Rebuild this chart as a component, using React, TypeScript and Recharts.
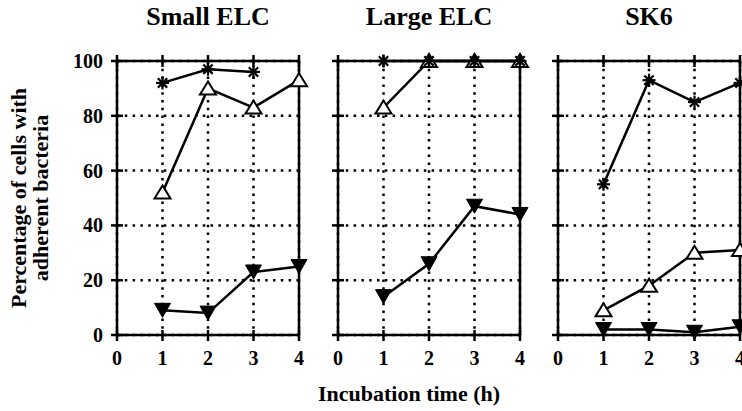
import { LineChart, Line, XAxis, YAxis, CartesianGrid } from 'recharts'

const hours = [1, 2, 3, 4]
const xTicks = [0, 1, 2, 3, 4]
const yTicks = [0, 20, 40, 60, 80, 100]

const titles = ['Small ELC', 'Large ELC', 'SK6']

// star = asterisk, open = open triangle up, filled = filled triangle down
const smallStar = [92, 97, 96, null]
const smallOpen = [52, 90, 83, 93]
const smallFilled = [9, 8, 23, 25]

const largeStar = [100, 100, 100, 100]
const largeOpen = [83, 100, 100, 100]
const largeFilled = [14, 26, 47, 44]

const sk6Star = [55, 93, 85, 92]
const sk6Open = [9, 18, 30, 31]
const sk6Filled = [2, 2, 1, 3]

const panels = [
  { star: smallStar, open: smallOpen, filled: smallFilled },
  { star: largeStar, open: largeOpen, filled: largeFilled },
  { star: sk6Star, open: sk6Open, filled: sk6Filled },
]

const txt = { fontFamily: 'Liberation Serif, Times New Roman, DejaVu Serif, serif', fontWeight: 'bold' as const }

function buildRows(p: { star: (number | null)[]; open: number[]; filled: number[] }) {
  return hours.map((h, i) => ({ t: h, star: p.star[i], open: p.open[i], filled: p.filled[i] }))
}

// eslint-disable-next-line @typescript-eslint/no-explicit-any
function StarDot(props: any) {
  const { cx, cy, index } = props
  if (cx == null || cy == null || props.value == null) return <g key={`s${index}`} />
  const r = 6.5
  const d = r * 0.72
  return (
    <g key={`s${index}`} stroke="#000" strokeWidth={2.2}>
      <line x1={cx - r} y1={cy} x2={cx + r} y2={cy} />
      <line x1={cx} y1={cy - r} x2={cx} y2={cy + r} />
      <line x1={cx - d} y1={cy - d} x2={cx + d} y2={cy + d} />
      <line x1={cx - d} y1={cy + d} x2={cx + d} y2={cy - d} />
    </g>
  )
}

// eslint-disable-next-line @typescript-eslint/no-explicit-any
function OpenTri(props: any) {
  const { cx, cy, index } = props
  if (cx == null || cy == null) return <g key={`o${index}`} />
  return (
    <polygon key={`o${index}`}
      points={`${cx},${cy - 7} ${cx - 8},${cy + 6} ${cx + 8},${cy + 6}`}
      fill="#fff" stroke="#000" strokeWidth={2} strokeLinejoin="miter" />
  )
}

// eslint-disable-next-line @typescript-eslint/no-explicit-any
function FilledTri(props: any) {
  const { cx, cy, index } = props
  if (cx == null || cy == null) return <g key={`f${index}`} />
  return (
    <polygon key={`f${index}`}
      points={`${cx - 8},${cy - 7} ${cx + 8},${cy - 7} ${cx},${cy + 7}`}
      fill="#000" stroke="#000" strokeWidth={1} />
  )
}

// eslint-disable-next-line @typescript-eslint/no-explicit-any
function LeftTick(props: any, labels: boolean) {
  const { x, y, payload } = props
  return (
    <g>
      <line x1={x - 6} x2={x + 6} y1={y} y2={y} stroke="#000" strokeWidth={2.5} />
      {labels && (
        <text x={x - 14} y={y + 7} textAnchor="end" style={txt} fontSize={20} fill="#000">
          {payload.value}
        </text>
      )}
    </g>
  )
}

// eslint-disable-next-line @typescript-eslint/no-explicit-any
function RightTick(props: any) {
  const { x, y } = props
  return <line x1={x - 5} x2={x + 5} y1={y} y2={y} stroke="#000" strokeWidth={2.5} />
}

// eslint-disable-next-line @typescript-eslint/no-explicit-any
function BottomTick(props: any) {
  const { x, y, payload } = props
  return (
    <g>
      <line x1={x} x2={x} y1={y - 5} y2={y + 6} stroke="#000" strokeWidth={2.5} />
      <text x={x} y={y + 30} textAnchor="middle" style={txt} fontSize={20} fill="#000">
        {payload.value}
      </text>
    </g>
  )
}

// eslint-disable-next-line @typescript-eslint/no-explicit-any
function TopTick(props: any) {
  const { x, y } = props
  return <line x1={x} x2={x} y1={y - 6} y2={y + 6} stroke="#000" strokeWidth={2.5} />
}

const frame = { stroke: '#000', strokeWidth: 2.5 }

function Panel({ idx, left, width, yAxisWidth, rightWidth }: { idx: number; left: number; width: number; yAxisWidth: number; rightWidth: number }) {
  const rows = buildRows(panels[idx])
  return (
    <div style={{ position: 'absolute', left, top: 0 }}>
      <LineChart width={width} height={411} data={rows} margin={{ top: 0, right: 0, bottom: 0, left: 0 }}>
        <CartesianGrid stroke="#000" strokeWidth={2.5} strokeDasharray="2.5 5.3" />
        <XAxis xAxisId={0} dataKey="t" type="number" domain={[0, 4]} ticks={xTicks} height={76}
          axisLine={frame} tickLine={false} tickSize={0} tickMargin={0} tick={BottomTick} interval={0} />
        <XAxis xAxisId="top" orientation="top" dataKey="t" type="number" domain={[0, 4]} ticks={xTicks} height={61}
          axisLine={frame} tickLine={false} tickSize={0} tickMargin={0} tick={TopTick} interval={0} />
        <YAxis yAxisId={0} type="number" domain={[0, 100]} ticks={yTicks} width={yAxisWidth}
          axisLine={frame} tickLine={false} tickSize={0} tickMargin={0}
          tick={(p) => LeftTick(p, idx === 0)} interval={0} />
        <YAxis yAxisId="right" orientation="right" type="number" domain={[0, 100]} ticks={yTicks} width={rightWidth}
          axisLine={frame} tickLine={false} tickSize={0} tickMargin={0} tick={RightTick} interval={0} />
        <Line dataKey="filled" stroke="#000" strokeWidth={2.5} dot={FilledTri} isAnimationActive={false} />
        <Line dataKey="open" stroke="#000" strokeWidth={2.5} dot={OpenTri} isAnimationActive={false} />
        <Line dataKey="star" stroke="#000" strokeWidth={2.5} dot={StarDot} connectNulls={false} isAnimationActive={false} />
      </LineChart>
    </div>
  )
}

export default function App() {
  const centers = [208, 429, 649]
  return (
    <div style={{ position: 'absolute', left: 0, top: 0, width: 742, height: 411, overflow: 'hidden', background: '#fff' }}>
      <Panel idx={0} left={0} width={310} yAxisWidth={117} rightWidth={11} />
      <Panel idx={1} left={298} width={232} yAxisWidth={40} rightWidth={10} />
      <Panel idx={2} left={518} width={232} yAxisWidth={40} rightWidth={10} />
      <svg width={742} height={411} style={{ position: 'absolute', left: 0, top: 0, pointerEvents: 'none' }}>
        {titles.map((t, i) => (
          <text key={t} x={centers[i]} y={25} textAnchor="middle" style={txt} fontSize={26} fill="#000">
            {t}
          </text>
        ))}
        <text x={409} y={401} textAnchor="middle" style={txt} fontSize={22} fill="#000">
          Incubation time (h)
        </text>
        <text transform="translate(26,198) rotate(-90)" textAnchor="middle" style={txt} fontSize={22} fill="#000">
          Percentage of cells with
        </text>
        <text transform="translate(48,198) rotate(-90)" textAnchor="middle" style={txt} fontSize={22} fill="#000">
          adherent bacteria
        </text>
      </svg>
    </div>
  )
}
